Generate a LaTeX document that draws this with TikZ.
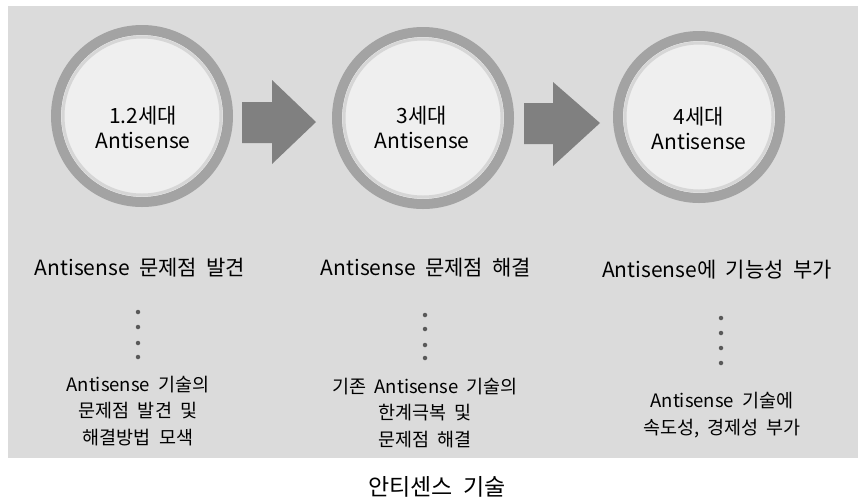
\documentclass[tikz,border=0pt]{standalone}
\usepackage{fontspec}
\setmainfont{Noto Sans CJK KR}[WordSpace=2.0]
\usetikzlibrary{shadings}
\definecolor{bgc}{gray}{0.86}
\definecolor{ringc}{gray}{0.64}
\definecolor{arrc}{gray}{0.5}
\tikzset{
  ring/.style={circle, minimum size=172pt, inner sep=0pt, draw=ringc, line width=10pt, fill=white!55!bgc},
  ctext/.style={align=center, inner sep=0pt, font=\fontsize{21}{25}\selectfont},
  ttl/.style={font=\fontsize{21}{24}\selectfont, inner sep=0pt},
  desc/.style={font=\fontsize{18.5}{26.5}\selectfont, align=center, inner sep=0pt},
  dotc/.style={circle, fill=gray!70!black, minimum size=4.5pt, inner sep=0pt},
  captext/.style={font=\fontsize{23}{26}\selectfont, inner sep=0pt},
}
\begin{document}
\begin{tikzpicture}[x=1pt,y=-1pt]
\useasboundingbox (0,0) rectangle (858,499);
\fill[bgc] (8,6) rectangle (858,458);
% circles
\node[ring] (c1) at (142,116) {};
\node[ring] (c2) at (423,118) {};
\node[ring, minimum size=162pt] (c3) at (699,117) {};
\draw[white!55!ringc, line width=3pt] (c1.center) circle (79pt);
\draw[white!55!ringc, line width=3pt] (c2.center) circle (79pt);
\draw[white!55!ringc, line width=3pt] (c3.center) circle (74pt);
\node[ctext] (l1) at (143,127) {1.2세대\\Antisense};
\node[ctext] (l2) at (422,127) {3세대\\Antisense};
\node[ctext] (l3) at (699,128) {4세대\\Antisense};
% arrows
\fill[arrc] (242,102) -- (272,102) -- (272,80) -- (316,122) -- (272,164) -- (272,143) -- (242,143) -- cycle;
\fill[arrc] (524,103) -- (553,103) -- (553,82) -- (600,123) -- (553,166) -- (553,144) -- (524,144) -- cycle;
% titles
\node[ttl] (t1) at (140,268) {Antisense 문제점 발견};
\node[ttl] (t2) at (426,268) {Antisense 문제점 해결};
\node[ttl] (t3) at (717,270) {Antisense에 기능성 부가};
% dots
\foreach \i/\y in {1/312,2/327,3/343,4/357} \node[dotc] (la\i) at (138,\y) {};
\foreach \i/\y in {1/315,2/329,3/345,4/358} \node[dotc] (mb\i) at (425,\y) {};
\foreach \i/\y in {1/318,2/333,3/348,4/363} \node[dotc] (rc\i) at (721,\y) {};
% descriptions
\node[desc] (d1) at (138,411) {Antisense 기술의\\문제점 발견 및\\해결방법 모색};
\node[desc] (d2) at (425,413) {기존 Antisense 기술의\\한계극복 및\\문제점 해결};
\node[desc] (d3) at (722,415) {Antisense 기술에\\속도성, 경제성 부가};
% caption
\node[captext] (cp) at (437,487) {안티센스 기술};
\end{tikzpicture}
\end{document}
